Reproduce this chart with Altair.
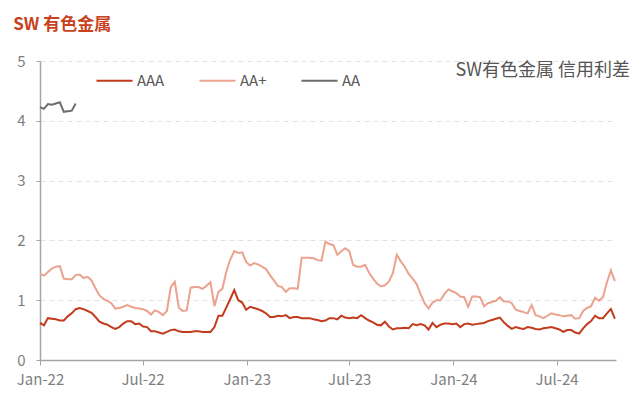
import altair as alt
import pandas as pd

FONT = "Noto Sans CJK SC"

start_date = "2022-01-01"

aaa = [0.62, 0.58, 0.70, 0.69, 0.68, 0.66, 0.66, 0.73, 0.78, 0.85,
       0.87, 0.85, 0.82, 0.79, 0.72, 0.64, 0.61, 0.59, 0.55, 0.52,
       0.55, 0.61, 0.65, 0.65, 0.60, 0.61, 0.56, 0.55, 0.48, 0.48,
       0.46, 0.44, 0.47, 0.50, 0.51, 0.48, 0.47, 0.47, 0.47, 0.48,
       0.48, 0.47, 0.47, 0.47, 0.55, 0.74, 0.74, 0.88, 1.02, 1.17,
       1.00, 0.96, 0.84, 0.89, 0.87, 0.85, 0.82, 0.78, 0.72, 0.72,
       0.74, 0.73, 0.75, 0.70, 0.72, 0.72, 0.70, 0.70, 0.70, 0.68,
       0.67, 0.65, 0.66, 0.70, 0.70, 0.68, 0.74, 0.71, 0.70, 0.71,
       0.70, 0.75, 0.70, 0.66, 0.63, 0.59, 0.58, 0.64, 0.56, 0.51,
       0.53, 0.53, 0.54, 0.53, 0.60, 0.58, 0.60, 0.58, 0.51, 0.62,
       0.55, 0.59, 0.61, 0.61, 0.60, 0.61, 0.55, 0.60, 0.61, 0.59,
       0.60, 0.61, 0.62, 0.65, 0.67, 0.69, 0.71, 0.63, 0.57, 0.52,
       0.55, 0.53, 0.52, 0.55, 0.54, 0.52, 0.51, 0.53, 0.54, 0.55,
       0.53, 0.51, 0.47, 0.50, 0.50, 0.46, 0.44, 0.53, 0.60, 0.65,
       0.74, 0.70, 0.70, 0.78, 0.85, 0.69]

aa_plus = [1.44, 1.41, 1.47, 1.53, 1.56, 1.57, 1.36, 1.35, 1.35, 1.42,
           1.43, 1.37, 1.39, 1.33, 1.20, 1.08, 1.02, 0.99, 0.95, 0.86,
           0.87, 0.89, 0.92, 0.89, 0.87, 0.86, 0.85, 0.82, 0.76, 0.83,
           0.80, 0.75, 0.82, 1.22, 1.31, 0.88, 0.82, 0.83, 1.21, 1.22,
           1.22, 1.19, 1.24, 1.30, 0.90, 1.14, 1.19, 1.48, 1.68, 1.82,
           1.79, 1.80, 1.64, 1.58, 1.62, 1.60, 1.56, 1.52, 1.42, 1.33,
           1.24, 1.22, 1.14, 1.20, 1.20, 1.19, 1.71, 1.71, 1.71, 1.70,
           1.67, 1.66, 1.98, 1.94, 1.92, 1.76, 1.82, 1.87, 1.82, 1.59,
           1.56, 1.56, 1.59, 1.46, 1.36, 1.28, 1.23, 1.25, 1.31, 1.45,
           1.76, 1.65, 1.56, 1.44, 1.36, 1.27, 1.10, 0.95, 0.86, 0.96,
           1.00, 1.00, 1.10, 1.18, 1.15, 1.12, 1.06, 1.05, 0.89, 1.06,
           1.06, 1.05, 0.90, 0.95, 0.97, 0.99, 1.05, 0.98, 0.98, 0.95,
           0.84, 0.82, 0.80, 0.78, 0.92, 0.75, 0.73, 0.70, 0.74, 0.78,
           0.76, 0.75, 0.73, 0.74, 0.75, 0.69, 0.70, 0.82, 0.87, 0.90,
           1.04, 0.99, 1.05, 1.30, 1.50, 1.32]

aa = [4.23, 4.20, 4.28, 4.27, 4.29, 4.31, 4.15, 4.16, 4.17, 4.29]

series_names = ["AAA", "AA+", "AA"]
series_colors = ["#C23B1C", "#EBA28E", "#6E6E6E"]
x_tick_dates = ["2022-01-01", "2022-07-01", "2023-01-01", "2023-07-01",
                "2024-01-01", "2024-07-01"]
y_ticks = [0, 1, 2, 3, 4, 5]

dates = pd.date_range(start_date, periods=len(aaa), freq="7D")
rows = []
for name, vals in zip(series_names, [aaa, aa_plus, aa]):
    for d, v in zip(dates[:len(vals)], vals):
        rows.append({"date": d.strftime("%Y-%m-%d"), "series": name, "value": v})
df = pd.DataFrame(rows)
df["order"] = df["series"].map({n: i for i, n in enumerate(series_names)})

x_vals = [alt.DateTime(year=int(s[:4]), month=int(s[5:7]), date=1, utc=True)
          for s in x_tick_dates]

lines = alt.Chart(df).mark_line(strokeWidth=2, interpolate="linear").encode(
    x=alt.X("date:T",
            scale=alt.Scale(type="utc",
                            domain=[alt.DateTime(year=2022, month=1, date=1, utc=True),
                                    alt.DateTime(year=2024, month=10, date=14, utc=True)]),
            axis=alt.Axis(title=None, values=x_vals, format="%b-%y", grid=False,
                          domainColor="#A6A6A6", domainWidth=1.5, tickColor="#A6A6A6",
                          tickSize=5, labelColor="#7F7F7F", labelFontSize=15,
                          labelFont=FONT, labelPadding=7, labelOverlap=False,
                          labelFlush=False, labelBound=False)),
    y=alt.Y("value:Q",
            scale=alt.Scale(domain=[0, 5], nice=False, zero=True),
            axis=alt.Axis(title=None, values=y_ticks, grid=True, gridDash=[5, 4],
                          gridColor="#E3E3E3", domainColor="#A6A6A6", domainWidth=1.5,
                          tickColor="#A6A6A6", tickSize=4, labelColor="#7F7F7F",
                          labelFontSize=15, labelFont=FONT, labelPadding=11)),
    color=alt.Color("series:N",
                    scale=alt.Scale(domain=series_names, range=series_colors),
                    sort=series_names,
                    legend=alt.Legend(title=None, orient="none", direction="horizontal",
                                      legendX=55, legendY=0, symbolType="stroke",
                                      symbolSize=1300, symbolStrokeWidth=2,
                                      labelFontSize=15, labelFont=FONT,
                                      labelColor="#595959", columnPadding=30,
                                      labelOffset=3)),
    detail="series:N",
    order=alt.Order("order:Q"),
)

note = alt.Chart(pd.DataFrame({"t": ["SW有色金属 信用利差"]})).mark_text(
    align="right", baseline="middle", fontSize=18, font=FONT, color="#555555"
).encode(x=alt.value(590), y=alt.value(10), text="t:N")

chart = alt.layer(lines, note).properties(
    width=576, height=299,
    autosize=alt.AutoSizeParams(type="none"),
    padding={"left": 32, "top": 53, "right": 16, "bottom": 30},
    title=alt.TitleParams("SW 有色金属", anchor="start", dx=-3, offset=20,
                          fontSize=17, font=FONT, fontWeight="bold",
                          color="#C8421E"),
).configure_view(stroke=None)

chart.save("out.html", embed_options={"renderer": "svg", "actions": False})
